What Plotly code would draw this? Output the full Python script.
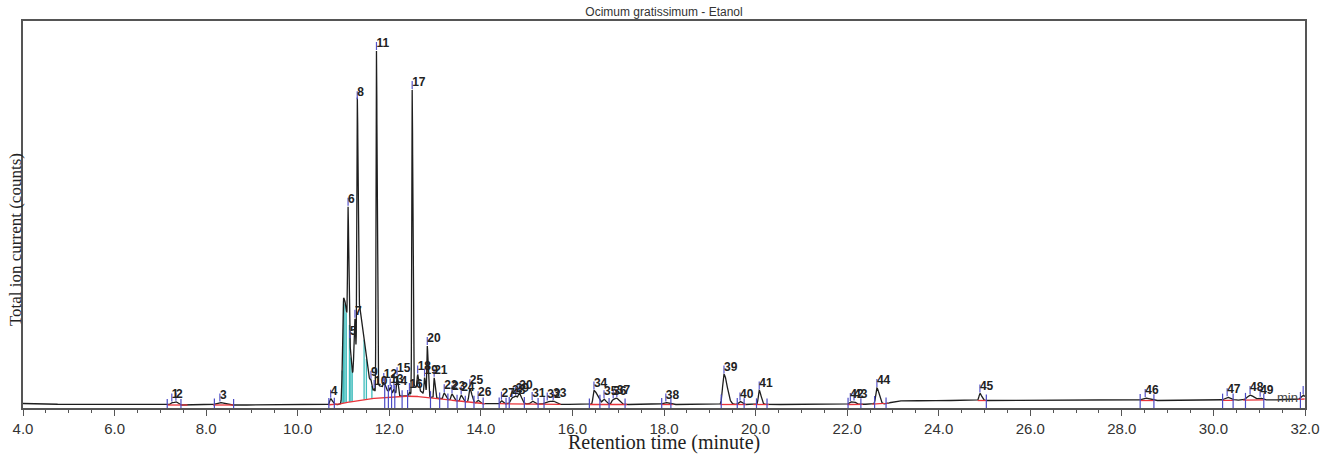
import numpy as np
import plotly.graph_objects as go

# ---------------- data ----------------
# peak label (None = unlabelled component), retention time (min), height above baseline,
# left / right half-widths (min)
peak_labels = ["1", "2", "3", "4", None, "5", "6", "7", "8", None, "9", "10", "11", None,
               "12", "13", "14", "15", "16", "17", None, "18", "19", "20", "21", "22", "23",
               "24", "25", "26", "27", "28", "29", "30", "31", "32", "33", "34", "35", "36",
               "37", "38", "39", "40", "41", "42", "43", "44", "45", "46", "47", "48", "49", ""]
peak_rt = [7.25, 7.34, 8.30, 10.72, 11.00, 11.14, 11.10, 11.25, 11.30, 11.32, 11.60, 11.67,
           11.72, 11.74, 11.88, 12.02, 12.10, 12.17, 12.44, 12.50, 12.52, 12.62, 12.77, 12.83,
           12.98, 13.20, 13.37, 13.57, 13.76, 13.94, 14.45, 14.68, 14.76, 14.84, 15.12, 15.45,
           15.58, 16.47, 16.69, 16.89, 16.97, 18.04, 19.31, 19.66, 20.08, 22.07, 22.15, 22.65,
           24.90, 28.51, 30.30, 30.80, 31.02, 31.96]
peak_height = [2.5, 3.0, 2.5, 6, 105, 6, 121, 70, 235, 95, 6, 5,
               338, 12, 6, 5, 5, 19, 4, 300, 10, 14, 17, 50,
               20, 6, 6, 6, 14, 3, 3, 6, 7, 10, 3, 2.5,
               3, 14, 5, 5, 5, 2, 30, 3, 14, 2.5, 2.5, 16,
               7, 2.5, 3, 5, 2, 4]
peak_wl = [0.03, 0.03, 0.07, 0.02, 0.02, 0.015, 0.010, 0.02, 0.010, 0.02, 0.015, 0.015,
           0.009, 0.02, 0.015, 0.015, 0.015, 0.012, 0.015, 0.009, 0.02, 0.012, 0.012, 0.010,
           0.010, 0.02, 0.02, 0.02, 0.02, 0.02, 0.02, 0.03, 0.03, 0.025, 0.03, 0.05,
           0.05, 0.02, 0.03, 0.03, 0.03, 0.05, 0.03, 0.03, 0.02, 0.03, 0.03, 0.025,
           0.02, 0.06, 0.06, 0.06, 0.04, 0.04]
peak_wr = [0.04, 0.04, 0.09, 0.04, 0.12, 0.015, 0.015, 0.02, 0.015, 0.14, 0.02, 0.02,
           0.014, 0.20, 0.025, 0.025, 0.025, 0.02, 0.02, 0.014, 0.15, 0.02, 0.02, 0.018,
           0.02, 0.03, 0.03, 0.03, 0.04, 0.03, 0.03, 0.04, 0.04, 0.05, 0.04, 0.06,
           0.06, 0.08, 0.05, 0.05, 0.06, 0.06, 0.07, 0.04, 0.04, 0.04, 0.04, 0.05,
           0.04, 0.08, 0.08, 0.08, 0.05, 0.04]

# baseline of the total ion current
baseline_rt = [4.0, 5.0, 7.0, 10.5, 10.9, 11.0, 11.5, 12.0, 12.5, 13.0, 13.5, 14.0, 15.0,
               16.0, 18.0, 20.0, 22.0, 22.8, 23.1, 24.0, 26.0, 28.0, 30.0, 31.0, 31.8, 32.0]
baseline_val = [4.5, 3.5, 3.0, 3.0, 3.5, 5.0, 9.0, 11.0, 12.0, 10.0, 7.0, 4.5, 4.0,
                3.5, 3.5, 3.5, 3.5, 4.0, 7.0, 7.5, 7.5, 7.5, 7.5, 8.0, 8.5, 9.0]

# integration marks
drop_rt = [7.15, 7.45, 8.18, 8.60, 10.68, 10.80, 11.90, 11.98, 12.05, 12.12, 12.28, 12.40,
           12.90, 13.10, 13.28, 13.48, 13.66, 13.85, 14.05, 14.40, 14.55, 14.62, 14.95,
           15.25, 15.38, 16.37, 16.60, 16.80, 17.15, 17.95, 18.15, 19.25, 19.60, 19.75,
           20.02, 20.25, 22.02, 22.30, 22.60, 22.85, 25.04, 28.40, 28.70, 30.20, 30.43,
           30.70, 31.10, 31.90]
red_start = [7.15, 8.15, 10.68, 14.40, 16.37, 17.95, 19.22, 19.95, 22.00, 22.55, 24.85,
             28.40, 30.18, 30.65, 31.85]
red_end = [7.60, 8.60, 14.10, 15.75, 17.20, 18.20, 19.80, 20.30, 22.35, 22.90, 25.05,
           28.72, 30.45, 31.12, 32.00]
cyan_rt = [10.97, 11.00, 11.03, 11.06, 11.13, 11.16, 11.19, 11.45, 11.50, 11.62, 12.40, 12.45]

title_text = "Ocimum gratissimum - Etanol"
x_title = "Retention time (minute)"
y_title = "Total ion current (counts)"

# ---------------- build the signal ----------------
t = np.arange(4.0, 32.0 + 1e-9, 0.002)
base = np.interp(t, baseline_rt, baseline_val)
signal = base.copy()
for rt, h, wl, wr in zip(peak_rt, peak_height, peak_wl, peak_wr):
    w = np.where(t < rt, wl, wr)
    signal += h * np.exp(-0.5 * ((t - rt) / w) ** 2)


def at(x):
    return float(np.interp(x, t, signal))


def base_at(x):
    return float(np.interp(x, t, base))


fig = go.Figure()

# cyan area stripes
cx, cy = [], []
for c in cyan_rt:
    cx += [c, c, None]
    cy += [base_at(c), at(c) * 0.97, None]
fig.add_trace(go.Scatter(x=cx, y=cy, mode="lines", line=dict(color="#3fbcbc", width=1.3),
                         hoverinfo="skip", showlegend=False))

# main trace
fig.add_trace(go.Scatter(x=t, y=signal, mode="lines", line=dict(color="#1e1e1e", width=1.3),
                         showlegend=False, hoverinfo="skip"))

# red integration baselines
rx, ry = [], []
for s, e in zip(red_start, red_end):
    m = (t >= s) & (t <= e)
    rx += list(t[m][::5]) + [None]
    ry += list(base[m][::5]) + [None]
fig.add_trace(go.Scatter(x=rx, y=ry, mode="lines", line=dict(color="#e8343a", width=1.3),
                         showlegend=False, hoverinfo="skip"))

# blue drop lines
dx, dy = [], []
for d in drop_rt:
    dx += [d, d, None]
    dy += [0, at(d) + 6, None]
fig.add_trace(go.Scatter(x=dx, y=dy, mode="lines", line=dict(color="#4a4ac4", width=1.2),
                         showlegend=False, hoverinfo="skip"))

# peak marker ticks and labels
tx, ty, lx, ly, lt = [], [], [], [], []
for lab, rt in zip(peak_labels, peak_rt):
    if lab is None:
        continue
    a = at(rt)
    tx += [rt, rt, None]
    ty += [a + 1, a + 9, None]
    if lab:
        lx.append(rt)
        ly.append(a + 1)
        lt.append(lab)
fig.add_trace(go.Scatter(x=tx, y=ty, mode="lines", line=dict(color="#5555cc", width=1.2),
                         showlegend=False, hoverinfo="skip"))
fig.add_trace(go.Scatter(x=lx, y=ly, mode="text", text=lt, textposition="top right",
                         textfont=dict(family="Liberation Sans", size=12, color="#222",
                                       weight="bold"),
                         cliponaxis=False, showlegend=False, hoverinfo="skip"))

fig.add_annotation(x=31.62, y=11, text="min", showarrow=False, xanchor="center",
                   yanchor="middle", font=dict(family="Liberation Sans", size=13, color="#444"))

fig.add_annotation(xref="paper", yref="paper", x=0.5, y=-0.088, text=x_title,
                   showarrow=False, xanchor="center", yanchor="middle",
                   font=dict(family="Liberation Serif", size=20, color="#222"))
fig.add_annotation(xref="paper", yref="paper", x=-0.0062, y=0.434, text=y_title,
                   showarrow=False, textangle=-90, xanchor="center", yanchor="middle",
                   font=dict(family="Liberation Serif", size=17, color="#222"))

fig.update_layout(
    width=1335, height=456,
    margin=dict(l=23, r=30, t=21, b=48),
    paper_bgcolor="white", plot_bgcolor="white",
    title=dict(text=title_text, x=0.5, xref="paper", xanchor="center", y=1 - 12 / 456,
               yref="container", yanchor="middle",
               font=dict(family="Liberation Sans", size=12, color="#333")),
    xaxis=dict(range=[4, 32], tick0=4, dtick=2, tickformat=".1f", ticks="outside",
               ticklen=6, tickcolor="#555", showgrid=False, zeroline=False,
               showline=True, linecolor="#555", linewidth=1.5, mirror=True,
               tickfont=dict(family="Liberation Sans", size=15, color="#333"),
               minor=dict(dtick=0.5, ticks="outside", ticklen=3, tickcolor="#555")),
    yaxis=dict(range=[0, 387], showticklabels=False, ticks="", showgrid=False,
               zeroline=False, showline=True, linecolor="#555", linewidth=1.5, mirror=True),
)

# remove the default 8 px page margin so the figure starts at the window's corner
fig.write_html("out.html", config={"displayModeBar": False},
               post_script="document.body.style.margin='0';")
